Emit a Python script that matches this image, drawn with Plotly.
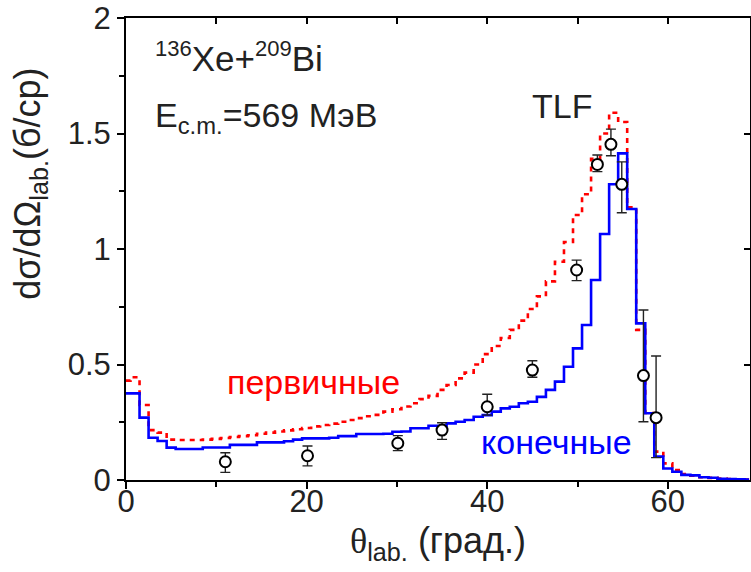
import plotly.graph_objects as go

# ---------------- data ----------------
bin_centers = list(range(0, 70))

final_vals = [0.375, 0.375, 0.27, 0.183, 0.169, 0.14, 0.134, 0.134, 0.134, 0.141,
              0.141, 0.141, 0.152, 0.152, 0.152, 0.163, 0.163, 0.163, 0.168, 0.175,
              0.18, 0.18, 0.18, 0.183, 0.19, 0.19, 0.199, 0.199, 0.199, 0.2,
              0.209, 0.21, 0.224, 0.224, 0.235, 0.235, 0.245, 0.252, 0.26, 0.274,
              0.281, 0.296, 0.31, 0.317, 0.332, 0.339, 0.36, 0.39, 0.426, 0.49,
              0.57, 0.671, 0.866, 1.065, 1.28, 1.414, 1.173, 0.678, 0.289, 0.101,
              0.05, 0.036, 0.022, 0.02, 0.012, 0.01, 0.005, 0.004, 0.003, 0.002]

primary_vals = [0.43, 0.445, 0.325, 0.216, 0.205, 0.175, 0.173, 0.173, 0.173, 0.175,
                0.178, 0.182, 0.186, 0.19, 0.194, 0.2, 0.205, 0.21, 0.215, 0.22,
                0.225, 0.232, 0.238, 0.244, 0.252, 0.26, 0.268, 0.276, 0.282, 0.296,
                0.306, 0.318, 0.332, 0.35, 0.364, 0.39, 0.411, 0.44, 0.465, 0.5,
                0.545, 0.58, 0.615, 0.65, 0.69, 0.74, 0.795, 0.86, 0.945, 1.03,
                1.147, 1.237, 1.39, 1.5, 1.59, 1.55, 1.18, 0.65, 0.29, 0.123,
                0.072, 0.043, 0.026, 0.019, 0.012, 0.009, 0.006, 0.004, 0.003, 0.002]

exp_theta = [11.0, 20.1, 30.1, 35.0, 40.0, 45.0, 49.9, 52.2, 53.7, 54.9, 57.3, 58.7]
exp_vals = [0.079, 0.105, 0.159, 0.216, 0.317, 0.476, 0.909, 1.366, 1.453, 1.28, 0.452, 0.27]
exp_err_plus = [0.039, 0.042, 0.033, 0.032, 0.054, 0.040, 0.043, 0.041, 0.066, 0.097, 0.284, 0.267]
exp_err_minus = [0.046, 0.044, 0.032, 0.040, 0.036, 0.031, 0.046, 0.031, 0.049, 0.123, 0.200, 0.173]

x_ticks = [0, 20, 40, 60]
y_ticks = [0, 0.5, 1, 1.5, 2]
y_tick_text = ["0", "0.5", "1", "1.5", "2"]

FONT = "Liberation Sans, Arial, Helvetica, sans-serif"

fig = go.Figure()

fig.add_trace(go.Scatter(
    x=bin_centers, y=primary_vals, mode="lines", line_shape="hvh",
    line=dict(color="#ff0000", width=2.6, dash="5px,5px"), showlegend=False))

fig.add_trace(go.Scatter(
    x=bin_centers, y=final_vals, mode="lines", line_shape="hvh",
    line=dict(color="#0000ff", width=2.6), showlegend=False))

fig.add_trace(go.Scatter(
    x=exp_theta, y=exp_vals, mode="markers",
    marker=dict(symbol="circle", size=11, color="white",
                line=dict(color="black", width=2)),
    error_y=dict(type="data", symmetric=False, array=exp_err_plus,
                 arrayminus=exp_err_minus, color="#222222", thickness=1.4, width=5),
    showlegend=False))

# dummy trace on overlay axes so that mirrored inner ticks are drawn
fig.add_trace(go.Scatter(x=[None], y=[None], xaxis="x2", yaxis="y2",
                         showlegend=False, hoverinfo="skip"))

axis_common = dict(showgrid=False, zeroline=False, showline=True,
                   linecolor="black", linewidth=2)

fig.update_layout(
    width=751, height=572,
    margin=dict(l=126, r=1, t=18, b=92),
    paper_bgcolor="white", plot_bgcolor="white",
    font=dict(family=FONT, color="#222222"),
    xaxis=dict(range=[0, 69.1], tickvals=x_ticks, ticks="outside", ticklen=7,
               tickwidth=1.5, tickcolor="black", ticklabelstandoff=-14,
               minor=dict(dtick=10, tick0=0, ticks="outside", ticklen=5,
                          tickwidth=1.5, tickcolor="black"),
               tickfont=dict(size=31, color="#222222", family=FONT),
               **axis_common),
    yaxis=dict(range=[0, 2], tickvals=y_ticks, ticktext=y_tick_text,
               ticks="outside", ticklen=7, tickwidth=1.5, tickcolor="black",
               minor=dict(dtick=0.25, tick0=0, ticks="outside", ticklen=5,
                          tickwidth=1.5, tickcolor="black"),
               tickfont=dict(size=31, color="#222222", family=FONT),
               **axis_common),
    xaxis2=dict(range=[0, 69.1], overlaying="x", side="top", showticklabels=False,
                tickvals=list(range(0, 70, 10)), ticks="inside", ticklen=6,
                tickwidth=1.5, tickcolor="black", **axis_common),
    yaxis2=dict(range=[0, 2], overlaying="y", side="right", showticklabels=False,
                tickvals=[0, 0.5, 1, 1.5, 2], ticks="inside", ticklen=6,
                tickwidth=1.5, tickcolor="black", **axis_common),
)

annotations = [
    dict(text="<sup><span style='font-size:22px'>136</span></sup>Xe+"
              "<sup><span style='font-size:22px'>209</span></sup>Bi",
         x=0.043, y=0.965, xanchor="left", yanchor="top", font=dict(size=35)),
    dict(text="E<sub>c.m.</sub>=569 МэВ", x=0.043, y=0.835,
         xanchor="left", yanchor="top", font=dict(size=34)),
    dict(text="TLF", x=0.698, y=0.81, xanchor="center", yanchor="middle",
         font=dict(size=34)),
    dict(text="первичные", x=0.3, y=0.212, xanchor="center", yanchor="middle",
         font=dict(size=34, color="#ff0000")),
    dict(text="конечные", x=0.69, y=0.082, xanchor="center", yanchor="middle",
         font=dict(size=34, color="#0000ff")),
]
for a in annotations:
    a.update(xref="paper", yref="paper", showarrow=False)
    a["font"].setdefault("family", FONT)
    a["font"].setdefault("color", "#222222")

# axis titles as rotated / positioned annotations
annotations.append(dict(
    text="dσ/dΩ<sub>lab.</sub>(б/ср)", xref="paper", yref="paper",
    x=-0.153, y=0.64, xanchor="center", yanchor="middle", textangle=-90,
    showarrow=False, font=dict(size=36, family=FONT, color="#222222")))
annotations.append(dict(
    text="<span style='font-family:Liberation Serif'>θ</span><sub>lab.</sub> (град.)",
    xref="paper", yref="paper", x=0.5, y=-0.136, xanchor="center", yanchor="middle",
    showarrow=False, font=dict(size=36, family=FONT, color="#222222")))

fig.update_layout(annotations=annotations)

fig.write_html("out.html")
